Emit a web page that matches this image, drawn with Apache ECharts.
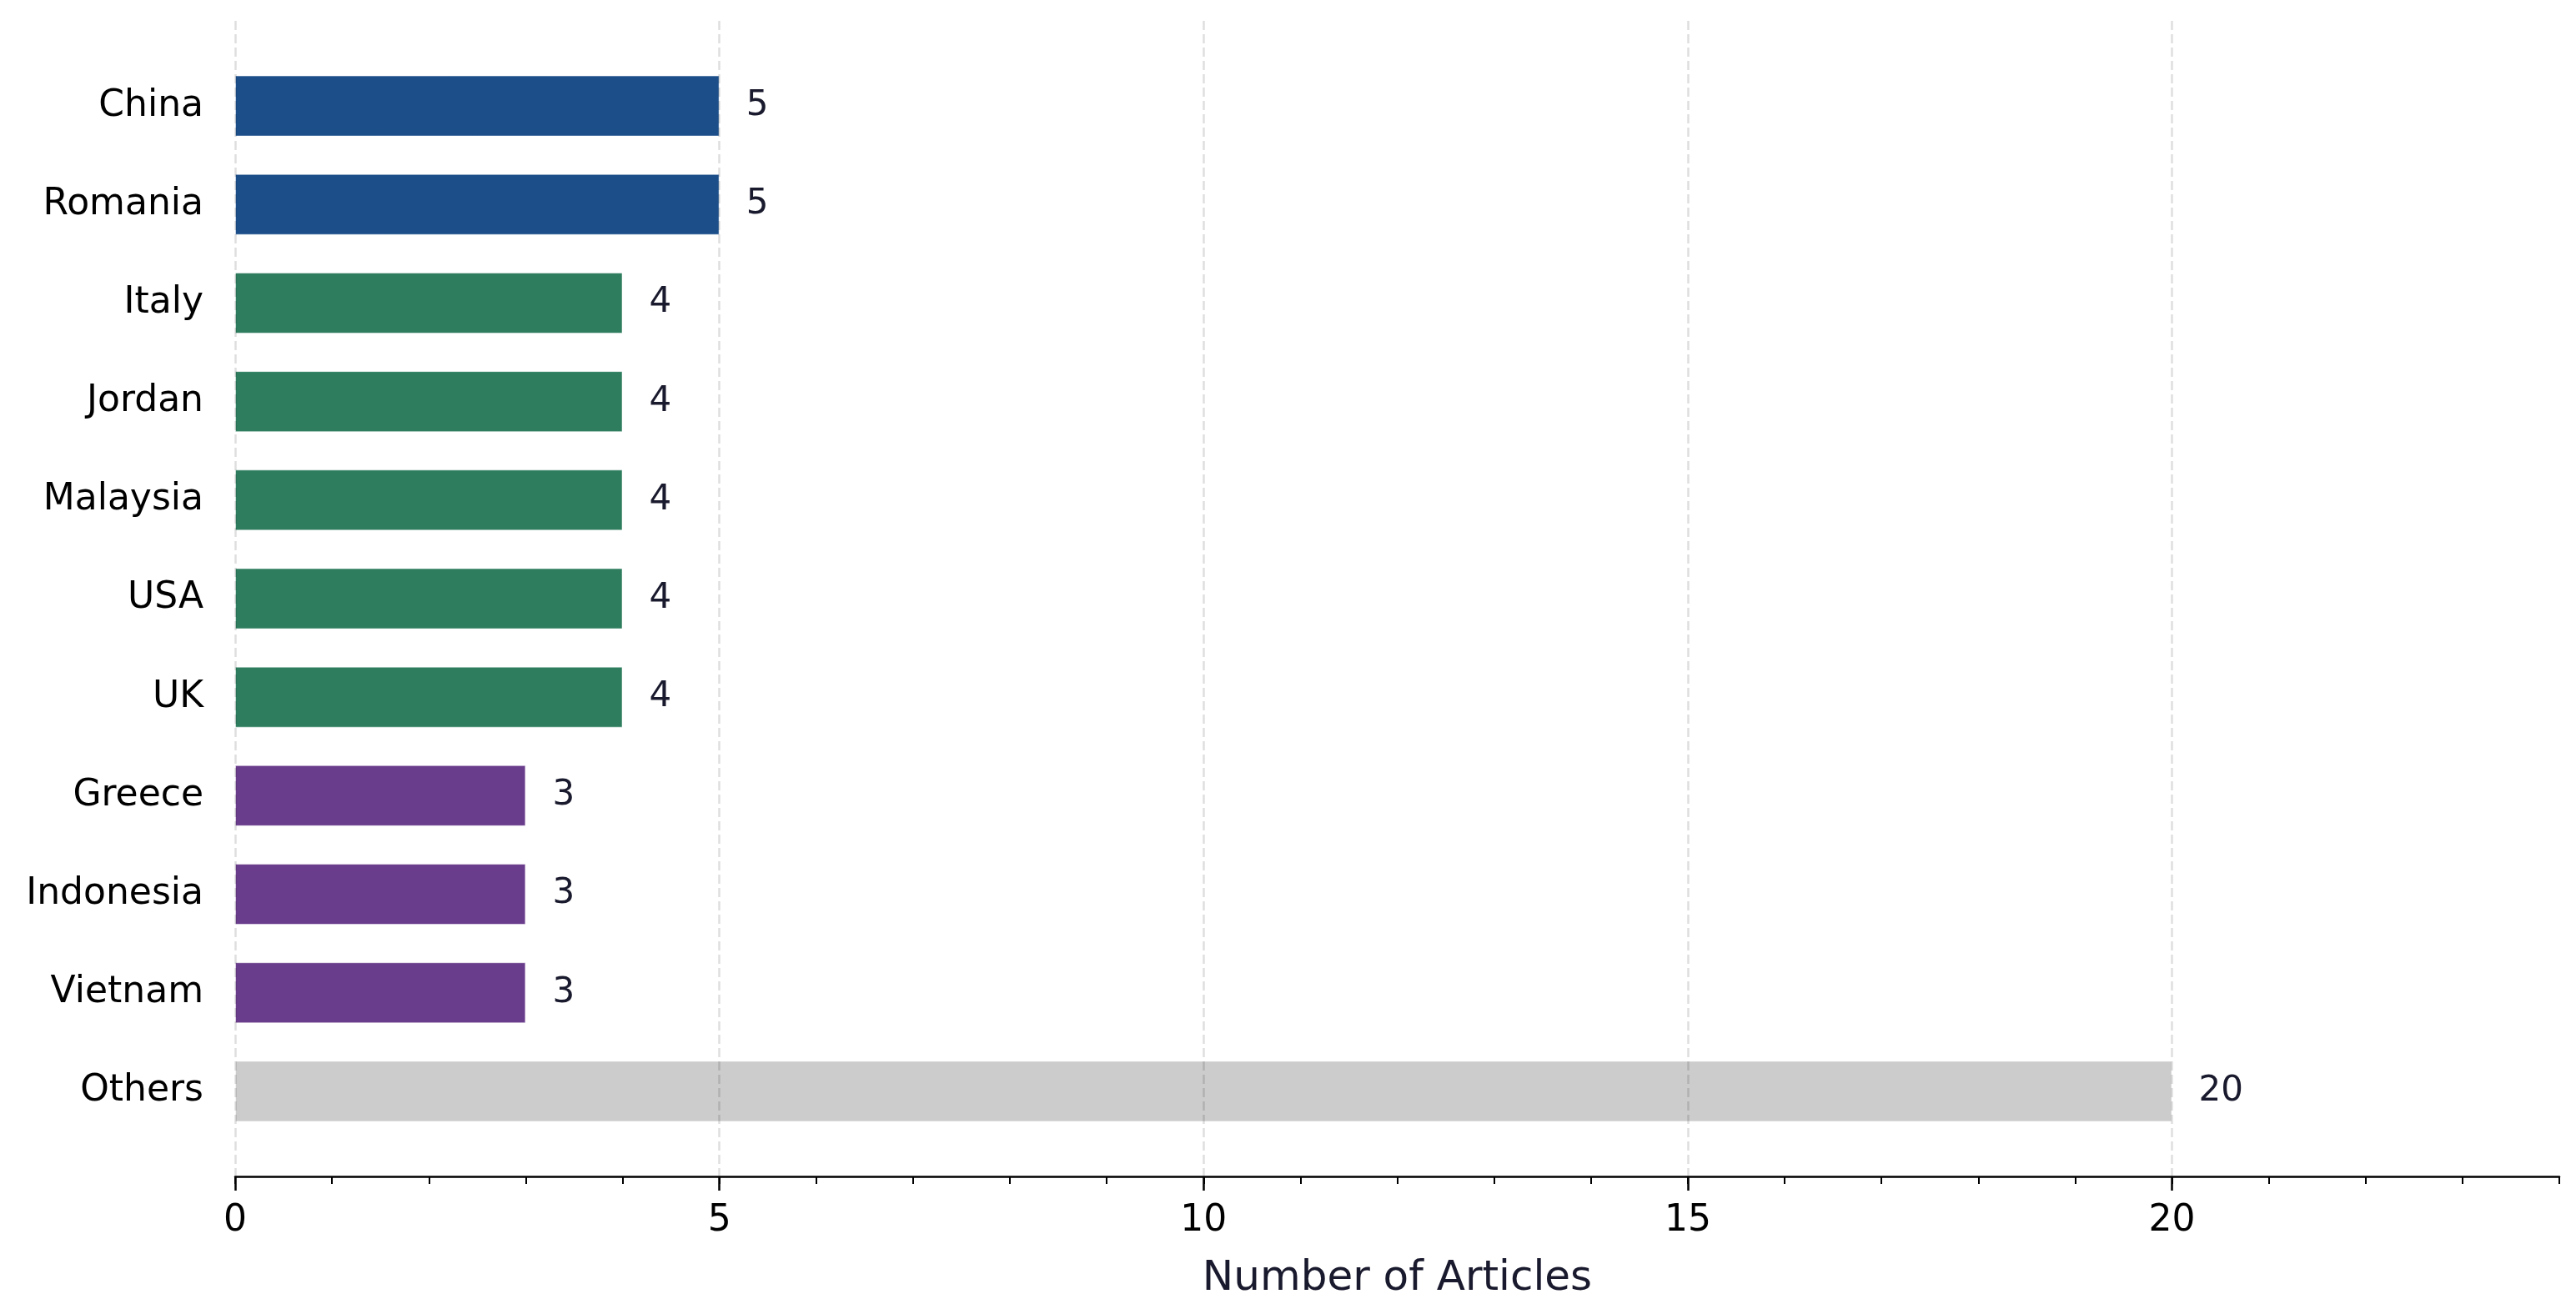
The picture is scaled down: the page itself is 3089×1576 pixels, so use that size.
<!DOCTYPE html>
<html><head><meta charset="utf-8">
<script src="https://cdn.jsdelivr.net/npm/echarts@6/dist/echarts.min.js"></script>
<style>html,body{margin:0;padding:0;background:#fff}#c{width:3089px;height:1576px}</style>
</head><body><div id="c"></div>
<script>
const countries = ['China','Romania','Italy','Jordan','Malaysia','USA','UK','Greece','Indonesia','Vietnam','Others'];
const articles = [5,5,4,4,4,4,4,3,3,3,20];
const majorTicks = [0,5,10,15,20];
const xMax = 24;
const axisTitle = 'Number of Articles';

const palette = {5:'#1c4f8a', 4:'#2e7d5e', 3:'#6a3d8c'};
const otherColor = '#cccccc';
const FONT = 'DejaVu Sans';

const chart = echarts.init(document.getElementById('c'), null, {renderer:'canvas', width:3089, height:1576, devicePixelRatio:1});
chart.setOption({
  animation:false,
  backgroundColor:'#ffffff',
  grid:[
    {left:282, right:20, top:68, bottom:208, containLabel:false},
    {left:282, right:20, top:25, bottom:165, containLabel:false}
  ],
  xAxis:[
    {gridIndex:0, type:'value', min:0, max:xMax, show:false},
    {gridIndex:1, type:'value', min:0, max:xMax, interval:5, position:'bottom', z:5,
      axisLine:{show:true, lineStyle:{color:'#000', width:2.5}},
      axisTick:{show:true, length:17, lineStyle:{color:'#000', width:2.5}, customValues:majorTicks},
      axisLabel:{show:true, margin:32, fontFamily:FONT, fontSize:44, color:'#000', customValues:majorTicks},
      splitLine:{show:true, lineStyle:{color:'rgba(0,0,0,0.13)', width:2.5, type:[11,5]}},
      name:axisTitle, nameLocation:'middle', nameGap:98,
      nameTextStyle:{fontFamily:FONT, fontSize:50, color:'#1a1a2e'}
    },
    {gridIndex:1, type:'value', min:0, max:xMax, interval:1, position:'bottom', z:5,
      axisLine:{show:false},
      axisTick:{show:true, length:9, lineStyle:{color:'#000', width:2}},
      axisLabel:{show:false}, splitLine:{show:false}
    }
  ],
  yAxis:[
    {gridIndex:0, type:'category', inverse:true, data:countries,
      axisLine:{show:false}, axisTick:{show:false}, splitLine:{show:false},
      axisLabel:{margin:38, fontFamily:FONT, fontSize:44, color:'#000', padding:[7,0,0,0]}
    },
    {gridIndex:1, type:'value', min:0, max:1, show:false}
  ],
  series:[{
    type:'bar', xAxisIndex:0, yAxisIndex:0, data:articles, barWidth:73, z:2,
    itemStyle:{
      color:p => countries[p.dataIndex]==='Others' ? otherColor : palette[p.value],
      borderColor:'rgba(255,255,255,0.5)', borderWidth:1
    },
    label:{show:true, position:'right', distance:32, fontFamily:FONT, fontSize:42, color:'#1a1a2e'}
  }]
});
</script></body></html>
